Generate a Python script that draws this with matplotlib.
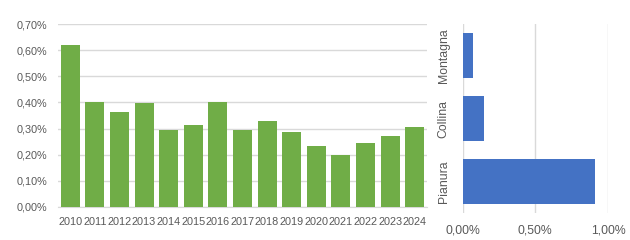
import matplotlib.pyplot as plt

# ---------- Data ----------
years = ["2010", "2011", "2012", "2013", "2014", "2015", "2016", "2017",
         "2018", "2019", "2020", "2021", "2022", "2023", "2024"]
rate_by_year = [0.62, 0.40, 0.364, 0.398, 0.295, 0.314, 0.40, 0.295,
                0.33, 0.287, 0.234, 0.199, 0.245, 0.272, 0.306]  # percent

zones = ["Pianura", "Collina", "Montagna"]
rate_by_zone = [0.91, 0.146, 0.071]  # percent

green = "#70AD47"
blue = "#4472C4"
grid_col = "#D9D9D9"
text_col = "#595959"

plt.rcParams['font.family'] = ['Liberation Sans', 'DejaVu Sans']


def pct(v, _=None):
    return f"{v:.2f}%".replace(".", ",")


W, H = 630, 240
fig = plt.figure(figsize=(W / 100, H / 100), dpi=100)

# ---------- Left: yearly bars ----------
ax1 = fig.add_axes([58 / W, (H - 207) / H, (427 - 58) / W, (207 - 24) / H])
x = range(len(years))
ax1.bar(x, rate_by_year, width=0.77, color=green, zorder=3)
ax1.set_xlim(-0.5, len(years) - 0.5)
ax1.set_ylim(0, 0.70)
ax1.set_yticks([i / 10 for i in range(8)])
ax1.yaxis.set_major_formatter(pct)
ax1.set_xticks(list(x))
ax1.set_xticklabels(years)
ax1.grid(axis="y", color=grid_col, linewidth=1, zorder=0)
for s in ax1.spines.values():
    s.set_visible(False)
ax1.spines["bottom"].set_visible(True)
ax1.spines["bottom"].set_color(grid_col)
ax1.tick_params(axis="y", length=0, pad=8, labelsize=7.8, labelcolor=text_col)
ax1.tick_params(axis="x", length=0, pad=7, labelsize=7.8, labelcolor=text_col)

# ---------- Right: zone bars ----------
ax2 = fig.add_axes([462.7 / W, (H - 213) / H, (608 - 462.7) / W, (213 - 24) / H])
y = range(len(zones))
ax2.barh(y, rate_by_zone, height=0.71, color=blue, zorder=3)
ax2.set_xlim(0, 1.0)
ax2.set_ylim(-0.5, len(zones) - 0.5)
ax2.set_xticks([0, 0.5, 1.0])
ax2.xaxis.set_major_formatter(pct)
ax2.set_yticks(list(y))
ax2.set_yticklabels(zones, rotation=90, va="center")
ax2.grid(axis="x", color=grid_col, linewidth=1, zorder=0)
for s in ax2.spines.values():
    s.set_visible(False)
ax2.tick_params(axis="x", length=0, pad=8.5, labelsize=8.8, labelcolor=text_col)
ax2.tick_params(axis="y", length=0, pad=9.5, labelsize=8.8, labelcolor=text_col)

fig.savefig("out.png", dpi=100)
